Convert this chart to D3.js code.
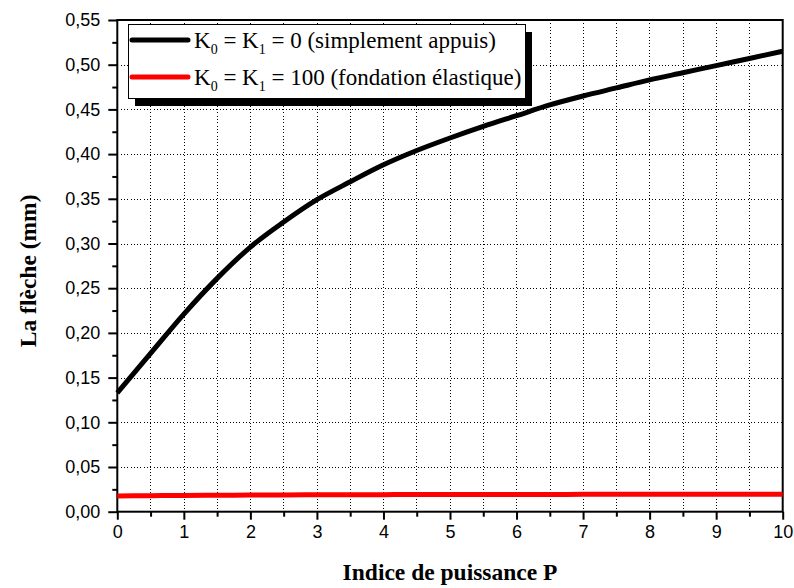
<!DOCTYPE html>
<html>
<head>
<meta charset="utf-8">
<script src="https://cdn.jsdelivr.net/npm/d3@7/dist/d3.min.js"></script>
<style>
	html, body { margin: 0; padding: 0; background: #fff; }
	svg { display: block; }
	.tick-label { font-family: Arial, "Liberation Sans", sans-serif; font-size: 18px; fill: #000; }
	.axis-title { font-family: "Times New Roman", "Liberation Serif", serif; font-size: 23.5px; font-weight: bold; fill: #000; }
	.legend-text { font-family: "Times New Roman", "Liberation Serif", serif; font-size: 23px; fill: #000; }
</style>
</head>
<body>
<svg id="chart" width="794" height="588"></svg>
<script>
"use strict";

// Indice de puissance P
var pValues = [0, 0.5, 1, 1.5, 2, 2.5, 3, 3.5, 4, 4.5, 5, 5.5, 6, 6.5, 7, 7.5, 8, 8.5, 9, 9.5, 10];

// K0 = K1 = 0 (simplement appuis)
var flecheAppuis = [0.133, 0.177, 0.221, 0.261, 0.296, 0.324, 0.349, 0.369, 0.388, 0.404, 0.418,
	0.431, 0.443, 0.455, 0.465, 0.474, 0.483, 0.491, 0.499, 0.507, 0.515];

// K0 = K1 = 100 (fondation elastique)
var flecheElastique = [0.0176, 0.0179, 0.0182, 0.0184, 0.0186, 0.0188, 0.0189, 0.0190, 0.0191, 0.0192, 0.0192,
	0.0193, 0.0193, 0.0193, 0.0194, 0.0194, 0.0194, 0.0194, 0.0194, 0.0194, 0.0194];

var xTicks = [0, 1, 2, 3, 4, 5, 6, 7, 8, 9, 10];
var xMinorTicks = [0.5, 1.5, 2.5, 3.5, 4.5, 5.5, 6.5, 7.5, 8.5, 9.5];
var yTicks = [0, 0.05, 0.10, 0.15, 0.20, 0.25, 0.30, 0.35, 0.40, 0.45, 0.50, 0.55];
var yMinorTicks = [0.025, 0.075, 0.125, 0.175, 0.225, 0.275, 0.325, 0.375, 0.425, 0.475, 0.525];

var legendLabels = [
	{ k: '0', name: '0 (simplement appuis)', color: '#000' },
	{ k: '100', name: '100 (fondation élastique)', color: '#ff0000' }
];

+function(d3){

	var margin = { top: 20, right: 11.3, bottom: 76.3, left: 117.3 };
	var width = 794 - margin.left - margin.right;
	var height = 588 - margin.top - margin.bottom;

	var svg = d3.select('#chart');
	var g = svg.append('g').attr('transform', 'translate(' + margin.left + ',' + margin.top + ')');

	var x = d3.scaleLinear().domain([0, 10]).range([0, width]);
	var y = d3.scaleLinear().domain([0, 0.55]).range([height, 0]);

	var comma = function(d) { return d3.format('.2f')(d).replace('.', ','); };

	//Grid
	var gridX = g.append('g').selectAll('line').data(xTicks.concat(xMinorTicks).filter(function(d) { return d > 0 && d < 10; }))
		.enter().append('line')
		.attr('x1', function(d) { return Math.round(x(d)) + 0.2; })
		.attr('x2', function(d) { return Math.round(x(d)) + 0.2; })
		.attr('y1', 0)
		.attr('y2', height);
	var gridY = g.append('g').selectAll('line').data(yTicks.filter(function(d) { return d > 0 && d < 0.55; }))
		.enter().append('line')
		.attr('x1', 0)
		.attr('x2', width)
		.attr('y1', function(d) { return Math.round(y(d)) + 0.3; })
		.attr('y2', function(d) { return Math.round(y(d)) + 0.3; });
	[gridX, gridY].forEach(function(sel) {
		sel.attr('stroke', '#000').attr('stroke-width', 1).attr('stroke-dasharray', '1,2.3')
			.attr('shape-rendering', 'crispEdges');
	});

	//Axes
	var xAxis = g.append('g').attr('transform', 'translate(0,' + height + ')')
		.call(d3.axisBottom(x).tickValues(xTicks).tickSize(8).tickSizeOuter(0).tickPadding(6).tickFormat(d3.format('d')));
	var xMinor = g.append('g').attr('transform', 'translate(0,' + height + ')')
		.call(d3.axisBottom(x).tickValues(xMinorTicks).tickSize(5).tickSizeOuter(0).tickFormat(''));
	var yAxis = g.append('g')
		.call(d3.axisLeft(y).tickValues(yTicks).tickSize(9).tickSizeOuter(0).tickPadding(8).tickFormat(comma));
	var yMinor = g.append('g')
		.call(d3.axisLeft(y).tickValues(yMinorTicks).tickSize(5).tickSizeOuter(0).tickFormat(''));

	[xAxis, xMinor, yAxis, yMinor].forEach(function(a) {
		a.select('.domain').remove();
		a.selectAll('.tick line').attr('stroke', '#000').attr('stroke-width', 2);
		a.selectAll('.tick text').attr('class', 'tick-label').attr('font-size', null).attr('font-family', null);
	});
	xAxis.selectAll('.tick text').attr('dy', '0.71em');

	//Frame
	g.append('rect')
		.attr('x', 0).attr('y', 0)
		.attr('width', width).attr('height', height)
		.attr('fill', 'none')
		.attr('stroke', '#000')
		.attr('stroke-width', 2);

	//Curves
	var line = d3.line()
		.x(function(d, i) { return x(pValues[i]); })
		.y(function(d) { return y(d); })
		.curve(d3.curveMonotoneX);

	g.append('path').datum(flecheElastique)
		.attr('d', line)
		.attr('fill', 'none')
		.attr('stroke', '#ff0000')
		.attr('stroke-width', 5);

	g.append('path').datum(flecheAppuis)
		.attr('d', line)
		.attr('fill', 'none')
		.attr('stroke', '#000')
		.attr('stroke-width', 5);

	//Legend
	var legend = svg.append('g').attr('transform', 'translate(128,24)');
	legend.append('rect')
		.attr('x', 7).attr('y', 8)
		.attr('width', 397).attr('height', 74)
		.attr('fill', '#000');
	legend.append('rect')
		.attr('x', 0.5).attr('y', 0.5)
		.attr('width', 397).attr('height', 74)
		.attr('fill', '#fff')
		.attr('stroke', '#000')
		.attr('stroke-width', 1);

	var rows = legend.selectAll('.legend-row').data(legendLabels)
		.enter().append('g')
		.attr('class', 'legend-row')
		.attr('transform', function(d, i) { return 'translate(0,' + (16 + i * 37) + ')'; });

	rows.append('line')
		.attr('x1', 4).attr('x2', 60)
		.attr('y1', 0).attr('y2', 0)
		.attr('stroke', function(d) { return d.color; })
		.attr('stroke-width', 5)
		.attr('stroke-linecap', 'round');

	var txt = rows.append('text')
		.attr('class', 'legend-text')
		.attr('x', 66)
		.attr('y', 8);
	txt.append('tspan').text('K');
	txt.append('tspan').attr('font-size', '14px').attr('dy', 6).text('0');
	txt.append('tspan').attr('dy', -6).text(' = K');
	txt.append('tspan').attr('font-size', '14px').attr('dy', 6).text('1');
	txt.append('tspan').attr('dy', -6).text(function(d) { return ' = ' + d.name; });

	//Axis titles
	svg.append('text')
		.attr('class', 'axis-title')
		.attr('text-anchor', 'middle')
		.attr('x', margin.left + width / 2)
		.attr('y', 580)
		.text('Indice de puissance P');

	svg.append('text')
		.attr('class', 'axis-title')
		.attr('text-anchor', 'middle')
		.attr('transform', 'translate(36,' + (margin.top + height / 2 + 5) + ') rotate(-90)')
		.text('La flèche (mm)');

}(d3);
</script>
</body>
</html>
